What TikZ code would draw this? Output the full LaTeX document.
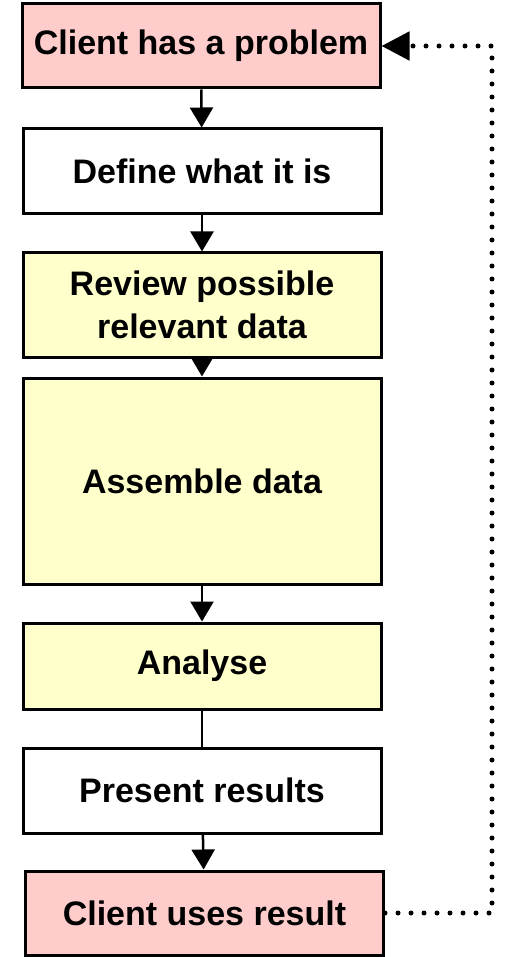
\documentclass[tikz,border=0pt]{standalone}
\usepackage{fontspec}
\setmainfont{Liberation Sans}
\usepackage{tikz}
\usetikzlibrary{arrows.meta, positioning}
\usepackage{xcolor}
\definecolor{clientpink}{HTML}{FFCCCC}
\definecolor{datayellow}{HTML}{FFFFCC}

\begin{document}
\begin{tikzpicture}[x=1pt, y=-1pt, >={Triangle[width=23pt,length=20pt]},
  stage/.style={draw, line width=3pt, minimum width=358pt, inner sep=0pt,
    align=center, font=\fontsize{34}{43}\selectfont\bfseries},
  flow/.style={line width=2.5pt}]
\useasboundingbox (0,0) rectangle (504,957);
\node[stage, fill=clientpink, minimum height=84pt] (problem) at (201,46) {Client has a problem};
\node[stage, fill=white, minimum height=85pt] (define) at (202,171.5) {Define what it is};
\node[stage, fill=datayellow, minimum height=104pt] (review) at (202,305) {Review possible\\relevant data};
\node[stage, fill=datayellow, minimum height=206pt] (assemble) at (202,481) {Assemble data};
\node[stage, fill=datayellow, minimum height=86pt] (analyse) at (202,666) {Analyse};
\node[stage, fill=white, minimum height=85pt] (present) at (202,790.5) {Present results};
\node[stage, fill=clientpink, minimum height=84pt] (uses) at (204.5,913) {Client uses result};
\draw[flow, ->] (problem) -- (define);
\draw[flow, ->] (define) -- (review);
\draw[flow, ->] (review) -- (assemble);
\draw[flow, ->] (assemble) -- (analyse);
\draw[flow] (analyse) -- (present);
\draw[flow, ->] (present) -- (uses);
% feedback loop
\coordinate (loopbot) at (492,913);
\coordinate (looptop) at (492,46);
\draw[line width=5pt, line cap=round, dash pattern=on 0pt off 13pt,
  -{Triangle[width=28pt,length=28pt]}] (uses.east) -- (loopbot) -- (looptop) -- (problem.east);
\end{tikzpicture}
\end{document}
